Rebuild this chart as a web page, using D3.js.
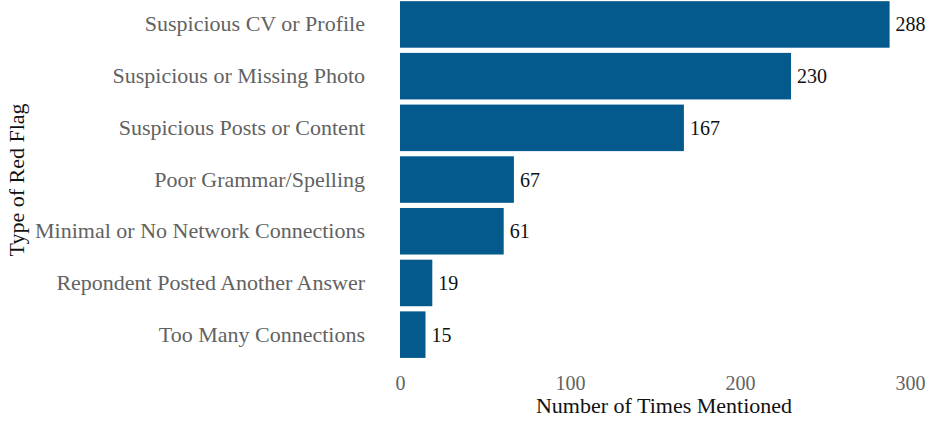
<!DOCTYPE html>
<html>
<head>
<meta charset="utf-8">
<script src="https://cdn.jsdelivr.net/npm/d3@7"></script>
<style>
  html, body { margin: 0; padding: 0; background: #fff; }
  svg text { font-family: "Liberation Serif", "DejaVu Serif", serif; }
</style>
</head>
<body>
<svg id="chart" width="926" height="422"></svg>
<script>
// Red-flag categories and how often each was mentioned
const categories = [
  "Suspicious CV or Profile",
  "Suspicious or Missing Photo",
  "Suspicious Posts or Content",
  "Poor Grammar/Spelling",
  "Minimal or No Network Connections",
  "Repondent Posted Another Answer",
  "Too Many Connections"
];
const counts = [288, 230, 167, 67, 61, 19, 15];
const xTicks = [0, 100, 200, 300];

const svg = d3.select("#chart");
const barColor = "#045a8d";
const textSize = 22;   // words
const numSize = 20;    // numerals

const x = d3.scaleLinear().domain([0, 300]).range([400, 910]);
const y = d3.scaleBand()
  .domain(categories)
  .range([-1.4, 360.5])
  .paddingInner(0.1)
  .paddingOuter(0.05);

// bars
svg.append("g").selectAll("rect")
  .data(categories)
  .join("rect")
  .attr("x", x(0))
  .attr("y", d => y(d))
  .attr("width", (d, i) => x(counts[i]) - x(0))
  .attr("height", y.bandwidth())
  .attr("fill", barColor);

// value labels
svg.append("g").selectAll("text")
  .data(categories)
  .join("text")
  .attr("x", (d, i) => x(counts[i]) + 6)
  .attr("y", d => y(d) + y.bandwidth() / 2)
  .attr("dy", "0.35em")
  .attr("font-size", numSize)
  .attr("fill", "#111")
  .text((d, i) => counts[i]);

// category axis (no line, no ticks)
const yAxis = d3.axisLeft(y).tickSize(0).tickPadding(0);
const gy = svg.append("g").attr("transform", "translate(365,0)").call(yAxis);
gy.select(".domain").remove();
gy.selectAll("text")
  .attr("font-size", textSize)
  .attr("fill", "#626262")
  .attr("font-family", "Liberation Serif, serif");

// value axis
const xAxis = d3.axisBottom(x).tickValues(xTicks).tickSize(0).tickPadding(0);
const gx = svg.append("g").attr("transform", "translate(0,376)").call(xAxis);
gx.select(".domain").remove();
gx.selectAll("text")
  .attr("font-size", numSize)
  .attr("fill", "#626262")
  .attr("font-family", "Liberation Serif, serif");

// axis titles
svg.append("text")
  .attr("x", 664)
  .attr("y", 413)
  .attr("text-anchor", "middle")
  .attr("font-size", textSize)
  .attr("fill", "#111")
  .text("Number of Times Mentioned");

svg.append("text")
  .attr("transform", "translate(24,180) rotate(-90)")
  .attr("text-anchor", "middle")
  .attr("font-size", textSize)
  .attr("fill", "#111")
  .text("Type of Red Flag");
</script>
</body>
</html>
